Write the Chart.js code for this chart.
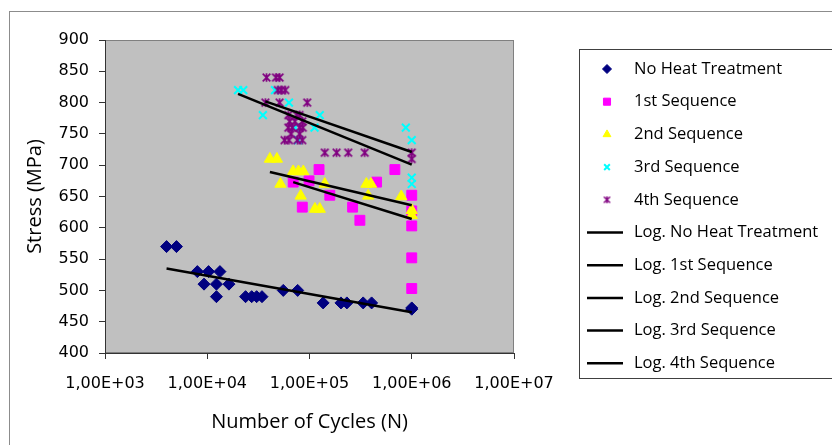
<!DOCTYPE html>
<html>
<head>
<meta charset="utf-8">
<script src="https://cdn.jsdelivr.net/npm/chart.js@4.4.0/dist/chart.umd.min.js"></script>
<style>
  body { margin: 0; background: #fff; }
  #wrap { width: 832px; height: 445px; }
</style>
</head>
<body>
<div id="wrap"><canvas id="fatigueChart" width="832" height="445"></canvas></div>
<script>
// datos (ciclos, tension MPa)
const noHeatX = [4000, 5000, 8000, 10300, 13300, 9300, 12300, 16300, 12300, 23700, 27200, 30400, 34300, 55400, 76600, 136000, 203000, 232000, 335000, 405000, 1000000, 1000000];
const noHeatY = [570, 570, 530, 530, 530, 510, 510, 510, 490, 490, 490, 490, 490, 500, 500, 480, 480, 480, 480, 480, 470, 472];

const seq1X = [69300, 99000, 85000, 124000, 158000, 264000, 311000, 453000, 684000, 1000000, 1000000, 1000000, 1000000, 1000000];
const seq1Y = [673, 675, 633, 693, 652, 633, 612, 673, 693, 652, 627, 603, 552, 503];

const seq2X = [41000, 48000, 52000, 69000, 78000, 87000, 82000, 113000, 126000, 141000, 360000, 400000, 375000, 790000, 1000000, 1000000];
const seq2Y = [710, 710, 670, 690, 690, 690, 651, 630, 630, 670, 670, 670, 651, 650, 628, 620];

const seq3X = [20000, 22500, 46000, 63000, 35000, 126000, 72000, 112000, 875000, 77500, 1000000, 1000000, 1000000];
const seq3Y = [820, 820, 820, 800, 780, 780, 760, 760, 760, 740, 740, 680, 670];

const seq4X = [38000, 47000, 51000, 49000, 53000, 58000, 37000, 51000, 95000, 62000, 75000, 80000, 64000, 72000, 85000, 62000, 68000, 80000, 86000, 66000, 80000, 57000, 63000, 76000, 85000, 141000, 184000, 239000, 347000, 1000000, 1000000];
const seq4Y = [840, 840, 840, 820, 820, 820, 800, 800, 800, 780, 780, 780, 770, 770, 770, 760, 760, 760, 760, 750, 750, 740, 740, 740, 740, 720, 720, 720, 720, 720, 710];

// lineas de tendencia logaritmicas (extremos)
const trendNoHeatX = [4000, 1000000];
const trendNoHeatY = [535, 465];
const trend1X = [69300, 1000000];
const trend1Y = [673, 614];
const trend2X = [41000, 1000000];
const trend2Y = [689, 636];
const trend3X = [20000, 1000000];
const trend3Y = [814, 701];
const trend4X = [37000, 1000000];
const trend4Y = [802, 721];

const xTickValues = [1e3, 1e4, 1e5, 1e6, 1e7];
const yMin = 400, yMax = 900, yStep = 50;

function puntos(xs, ys) {
    return xs.map((x, i) => ({ x: x, y: ys[i] }));
}

// marcador tipo "estrella" de Excel: X con barra vertical
function marcadorEstrella(tam, color, lw) {
    const c = document.createElement('canvas');
    c.width = tam; c.height = tam;
    const g = c.getContext('2d');
    const m = lw, f = tam - lw, mid = tam / 2;
    g.strokeStyle = color;
    g.lineWidth = lw;
    g.beginPath();
    g.moveTo(m, m); g.lineTo(f, f);
    g.moveTo(f, m); g.lineTo(m, f);
    g.moveTo(mid, m - 0.5); g.lineTo(mid, f + 0.5);
    g.stroke();
    return c;
}
const estrellaGrande = marcadorEstrella(11, '#800080', 1.7);
const estrellaChica = marcadorEstrella(9, '#800080', 1.4);

const markerSeries = [
    { label: 'No Heat Treatment', xs: noHeatX, ys: noHeatY, style: 'rectRot', color: '#000080', radius: 6, lw: 1, legendR: 4.5 },
    { label: '1st Sequence', xs: seq1X, ys: seq1Y, style: 'rect', color: '#ff00ff', radius: 7, lw: 1, legendR: 5 },
    { label: '2nd Sequence', xs: seq2X, ys: seq2Y, style: 'triangle', color: '#ffff00', radius: 6.5, lw: 1, legendR: 4.5 },
    { label: '3rd Sequence', xs: seq3X, ys: seq3Y, style: 'crossRot', color: '#00ffff', radius: 5.5, lw: 2, legendR: 4 },
    { label: '4th Sequence', xs: seq4X, ys: seq4Y, style: estrellaGrande, legendStyle: estrellaChica, color: '#800080', radius: 5.5, lw: 1.6, legendR: 4 }
];

const trendSeries = [
    { label: 'Log. No Heat Treatment', xs: trendNoHeatX, ys: trendNoHeatY },
    { label: 'Log. 1st Sequence', xs: trend1X, ys: trend1Y },
    { label: 'Log. 2nd Sequence', xs: trend2X, ys: trend2Y },
    { label: 'Log. 3rd Sequence', xs: trend3X, ys: trend3Y },
    { label: 'Log. 4th Sequence', xs: trend4X, ys: trend4Y }
];

const datasets = [];
markerSeries.forEach((s, i) => {
    const cruz = s.style === 'crossRot';
    datasets.push({
        label: s.label,
        data: puntos(s.xs, s.ys),
        pointStyle: s.style,
        pointRadius: s.radius,
        pointBackgroundColor: s.color,
        pointBorderColor: s.color,
        pointBorderWidth: cruz ? s.lw : 1,
        showLine: false,
        order: 10 - i
    });
});
trendSeries.forEach((s) => {
    datasets.push({
        label: s.label,
        data: puntos(s.xs, s.ys),
        showLine: true,
        borderColor: '#000000',
        borderWidth: 2.5,
        pointRadius: 0,
        order: 0
    });
});

const fondoPlot = {
    id: 'fondoPlot',
    beforeDraw(chart) {
        const { ctx, chartArea: a } = chart;
        ctx.save();
        ctx.strokeStyle = '#8c8c8c';
        ctx.lineWidth = 1;
        ctx.strokeRect(9.5, 11.5, 900, 500);
        ctx.fillStyle = '#c0c0c0';
        ctx.fillRect(a.left, a.top, a.right - a.left, a.bottom - a.top);
        ctx.strokeStyle = '#808080';
        ctx.strokeRect(a.left + 0.5, a.top + 0.5, a.right - a.left - 1, a.bottom - a.top - 1);
        ctx.restore();
    }
};

const leyenda = {
    id: 'leyenda',
    afterDraw(chart) {
        const ctx = chart.ctx;
        ctx.save();
        ctx.strokeStyle = '#404040';
        ctx.lineWidth = 1;
        ctx.strokeRect(579.5, 49.5, 270, 329);
        ctx.font = '16.5px "Open Sans"';
        ctx.textBaseline = 'middle';
        const items = markerSeries.concat(trendSeries);
        items.forEach((s, i) => {
            const y = 69 + i * 32.7;
            if (s.style) {
                ctx.fillStyle = s.color;
                ctx.strokeStyle = s.color;
                ctx.lineWidth = s.lw;
                Chart.helpers.drawPoint(ctx, { pointStyle: s.legendStyle || s.style, radius: s.legendR, borderWidth: s.lw, rotation: 0 }, 607, y);
            } else {
                ctx.strokeStyle = '#000';
                ctx.lineWidth = 2.5;
                ctx.beginPath();
                ctx.moveTo(587, y);
                ctx.lineTo(623, y);
                ctx.stroke();
            }
            ctx.fillStyle = '#000';
            ctx.fillText(s.label, 634, y);
        });
        ctx.restore();
    }
};

const ctxFat = document.getElementById('fatigueChart').getContext('2d');
const fatigueChart = new Chart(ctxFat, {
    type: 'scatter',
    data: { datasets: datasets },
    options: {
        responsive: false,
        animation: false,
        devicePixelRatio: 1,
        layout: { padding: { left: 0, top: 40, right: 318, bottom: 0 } },
        plugins: {
            legend: { display: false },
            tooltip: { enabled: false }
        },
        scales: {
            x: {
                type: 'logarithmic',
                min: xTickValues[0],
                max: xTickValues[xTickValues.length - 1],
                afterBuildTicks: (scale) => {
                    scale.ticks = xTickValues.map(v => ({ value: v, major: true }));
                },
                afterFit: (scale) => { scale.height = 92; },
                grid: { drawOnChartArea: false, tickLength: 6, color: '#333' },
                border: { color: '#333' },
                ticks: {
                    autoSkip: false,
                    maxRotation: 0,
                    padding: 15,
                    color: '#000',
                    font: { family: 'DejaVu Sans', size: 16 },
                    callback: (v) => {
                        const e = Math.round(Math.log10(v));
                        return '1,00E+' + String(e).padStart(2, '0');
                    }
                },
                title: {
                    display: true,
                    text: 'Number of Cycles (N)',
                    color: '#000',
                    font: { family: 'Open Sans', size: 20 },
                    padding: { top: 0, bottom: 11 }
                }
            },
            y: {
                min: yMin,
                max: yMax,
                afterFit: (scale) => { scale.width = 105; },
                grid: { drawOnChartArea: false, tickLength: 6, color: '#333' },
                border: { color: '#333' },
                ticks: {
                    stepSize: yStep,
                    padding: 10,
                    color: '#000',
                    font: { family: 'DejaVu Sans', size: 16 }
                },
                title: {
                    display: true,
                    text: 'Stress (MPa)',
                    color: '#000',
                    font: { family: 'Open Sans', size: 20 },
                    padding: { top: 23, bottom: 0 }
                }
            }
        }
    },
    plugins: [fondoPlot, leyenda]
});
</script>
</body>
</html>
